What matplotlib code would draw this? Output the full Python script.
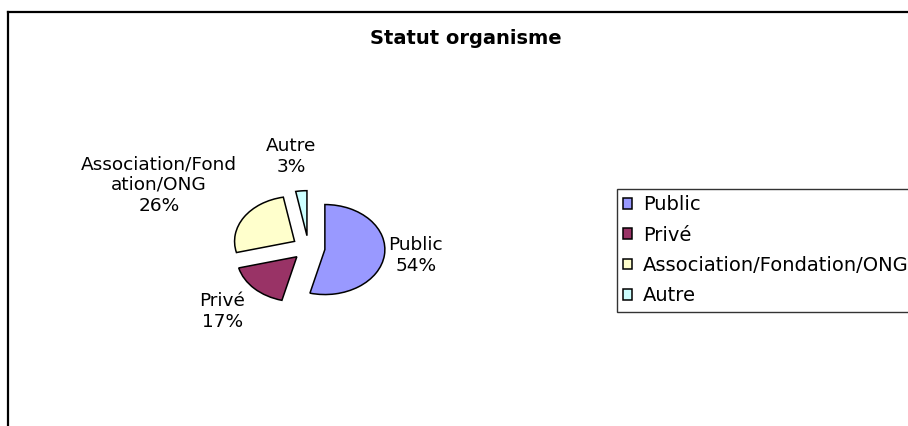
import matplotlib
matplotlib.use("Agg")
import matplotlib.pyplot as plt
from matplotlib.lines import Line2D

# ---- data ----
categories = ["Public", "Privé", "Association/Fondation/ONG", "Autre"]
values = [54, 17, 26, 3]
pie_labels = ["Public\n54%", "Privé\n17%", "Association/Fond\nation/ONG\n26%", "Autre\n3%"]
colors = ["#9999FF", "#993366", "#FFFFCC", "#CCFFFF"]
title = "Statut organisme"

# label anchor positions (data units, radius = 1)
label_pos = [(1.79, -0.17), (-1.44, -1.42), (-2.49, 1.40), (-0.29, 2.03)]

plt.rcParams['font.family'] = ['DejaVu Sans']

W, H = 908, 426
fig = plt.figure(figsize=(W / 100, H / 100), dpi=100)
fig.patch.set_facecolor("white")

ax = fig.add_axes([0, 0, 1, 1])
wedges, _ = ax.pie(values, colors=colors, explode=[0.275] * len(values),
                   startangle=90, counterclock=False, radius=1,
                   wedgeprops=dict(edgecolor="black", linewidth=1.1))
ax.set_aspect("auto")
cx_px, cy_px, rx_px, ry_px = 308.5, 248, 60, 45
ax.set_xlim(-cx_px / rx_px, (W - cx_px) / rx_px)
ax.set_ylim((cy_px - H) / ry_px, cy_px / ry_px)
ax.axis("off")

for (x, y), txt in zip(label_pos, pie_labels):
    ax.text(x, y, txt, ha="center", va="center", fontsize=13.3,
            linespacing=1.2, color="black")

fig.text(466 / W, 1 - 38 / H, title, ha="center", va="center",
         fontsize=14, fontweight="bold")

# chart border (top and left edges visible, rest clipped)
fig.add_artist(Line2D([8 / W, 8 / W], [0, 1 - 12 / H], transform=fig.transFigure,
                      color="black", linewidth=1.6))
fig.add_artist(Line2D([8 / W, 1.0], [1 - 12 / H, 1 - 12 / H], transform=fig.transFigure,
                      color="black", linewidth=1.6))

leg = fig.legend(wedges, categories, loc="upper left",
                 bbox_to_anchor=(617 / W, 1 - 189 / H), borderaxespad=0,
                 fontsize=14, frameon=True, fancybox=False, shadow=False,
                 handlelength=0.46, handleheight=0.46, handletextpad=0.55,
                 labelspacing=0.58, borderpad=0.33)
leg.get_frame().set_edgecolor("black")
leg.get_frame().set_linewidth(1.0)
leg.get_frame().set_facecolor("white")

fig.savefig("out.png", dpi=100)
